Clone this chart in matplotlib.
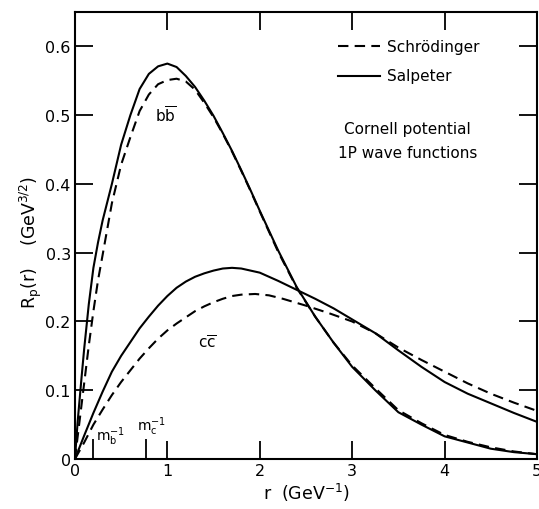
import numpy as np
import matplotlib
matplotlib.use('Agg')
import matplotlib.pyplot as plt

# radial P-wave functions, R_p(r) in GeV^(3/2), r in GeV^-1
r_bb_sal = [0, 0.03, 0.07, 0.1, 0.15, 0.2, 0.25, 0.3, 0.4, 0.5, 0.6, 0.7, 0.8, 0.9, 1.0,
            1.1, 1.2, 1.3, 1.4, 1.5, 1.6, 1.7, 1.8, 1.9, 2.0, 2.2, 2.4, 2.6, 2.8, 3.0,
            3.25, 3.5, 3.75, 4.0, 4.25, 4.5, 4.75, 5.0]
R_bb_sal = [0, 0.055, 0.116, 0.16, 0.225, 0.278, 0.315, 0.347, 0.40, 0.457, 0.50, 0.538,
            0.560, 0.571, 0.575, 0.570, 0.557, 0.541, 0.521, 0.499, 0.474, 0.448,
            0.420, 0.391, 0.361, 0.303, 0.250, 0.207, 0.169, 0.134, 0.100, 0.068,
            0.050, 0.033, 0.024, 0.015, 0.010, 0.007]

r_bb_sch = [0, 0.05, 0.1, 0.15, 0.2, 0.25, 0.3, 0.4, 0.5, 0.6, 0.7, 0.8, 0.9, 1.0, 1.1,
            1.2, 1.3, 1.4, 1.5, 1.6, 1.7, 1.8, 1.9, 2.0, 2.2, 2.4, 2.6, 2.8, 3.0, 3.25,
            3.5, 3.75, 4.0, 4.25, 4.5, 4.75, 5.0]
R_bb_sch = [0, 0.055, 0.11, 0.165, 0.215, 0.26, 0.297, 0.372, 0.428, 0.468, 0.506,
            0.530, 0.545, 0.551, 0.553, 0.549, 0.537, 0.518, 0.497, 0.473, 0.447,
            0.419, 0.390, 0.360, 0.301, 0.249, 0.207, 0.169, 0.136, 0.103, 0.071,
            0.052, 0.035, 0.025, 0.017, 0.011, 0.007]

r_cc_sal = [0, 0.1, 0.2, 0.3, 0.4, 0.5, 0.6, 0.7, 0.8, 0.9, 1.0, 1.1, 1.2, 1.3, 1.4, 1.5,
            1.6, 1.7, 1.8, 2.0, 2.2, 2.4, 2.6, 2.8, 3.0, 3.25, 3.5, 3.75, 4.0, 4.25,
            4.5, 4.75, 5.0]
R_cc_sal = [0, 0.034, 0.067, 0.098, 0.127, 0.150, 0.170, 0.190, 0.207, 0.223, 0.237,
            0.249, 0.258, 0.265, 0.270, 0.274, 0.277, 0.278, 0.277, 0.271, 0.259,
            0.246, 0.233, 0.219, 0.203, 0.183, 0.158, 0.134, 0.112, 0.095, 0.081,
            0.067, 0.054]

r_cc_sch = [0, 0.1, 0.2, 0.3, 0.4, 0.5, 0.6, 0.7, 0.8, 0.9, 1.0, 1.1, 1.2, 1.3, 1.4,
            1.5, 1.6, 1.7, 1.8, 1.95, 2.1, 2.25, 2.5, 2.75, 3.0, 3.25, 3.5, 3.75, 4.0,
            4.25, 4.5, 4.75, 5.0]
R_cc_sch = [0, 0.024, 0.05, 0.072, 0.093, 0.112, 0.129, 0.146, 0.161, 0.175, 0.187,
            0.197, 0.206, 0.215, 0.222, 0.228, 0.233, 0.237, 0.239, 0.240, 0.238,
            0.233, 0.223, 0.212, 0.200, 0.183, 0.162, 0.144, 0.127, 0.110, 0.095,
            0.082, 0.070]

# inverse quark masses marked on the r axis
mass_pos = [0.2, 0.77]
mass_lab = [r'$\mathrm{m_b^{-1}}$', r'$\mathrm{m_c^{-1}}$']

plt.rcParams['font.family'] = 'DejaVu Sans'
plt.rcParams['mathtext.fontset'] = 'dejavusans'

fig = plt.figure(figsize=(5.39, 5.10), dpi=100)
ax = fig.add_axes([0.139, 0.098, 0.8573, 0.8765])

dash = (0, (5, 3))
ax.plot(r_bb_sch, R_bb_sch, color='black', lw=1.5, linestyle=dash)
ax.plot(r_bb_sal, R_bb_sal, color='black', lw=1.5)
ax.plot(r_cc_sch, R_cc_sch, color='black', lw=1.5, linestyle=dash)
ax.plot(r_cc_sal, R_cc_sal, color='black', lw=1.5)

ax.vlines(mass_pos, 0, 0.029, color='black', lw=1.3)
ax.text(mass_pos[0] + 0.03, 0.017, mass_lab[0], fontsize=10, ha='left', va='bottom')
ax.text(mass_pos[1] - 0.1, 0.032, mass_lab[1], fontsize=10, ha='left', va='bottom')

ax.text(0.98, 0.5, r'$\mathrm{b}\overline{\mathrm{b}}$', fontsize=11,
        ha='center', va='center')
ax.text(1.43, 0.17, r'$\mathrm{c}\overline{\mathrm{c}}$', fontsize=11,
        ha='center', va='center')

# legend drawn by hand
ax.plot([2.85, 3.3], [0.6, 0.6], color='black', lw=1.5, linestyle=dash)
ax.plot([2.85, 3.3], [0.557, 0.557], color='black', lw=1.5)
ax.text(3.38, 0.6, 'Schrödinger', fontsize=11, va='center')
ax.text(3.38, 0.557, 'Salpeter', fontsize=11, va='center')
ax.text(3.6, 0.48, 'Cornell potential', fontsize=11, ha='center', va='center')
ax.text(3.6, 0.446, '1P wave functions', fontsize=11, ha='center', va='center')

ax.set_xlim(0, 5)
ax.set_ylim(0, 0.65)
ax.set_xticks([0, 1, 2, 3, 4, 5])
ax.set_yticks([0, 0.1, 0.2, 0.3, 0.4, 0.5, 0.6])
ax.set_yticklabels(['0', '0.1', '0.2', '0.3', '0.4', '0.5', '0.6'])
ax.tick_params(direction='in', length=13, width=1.3, top=True, right=True,
               labelsize=11.5, pad=3)
for s in ax.spines.values():
    s.set_linewidth(1.5)

ax.set_xlabel(r'r  (GeV$^{-1}$)', fontsize=12.5, labelpad=2)
fig.text(0.058, 0.525, r'R$_\mathrm{p}$(r)    (GeV$^{3/2}$)', fontsize=12.5,
         rotation=90, ha='center', va='center')

fig.savefig('out.png', dpi=100)
